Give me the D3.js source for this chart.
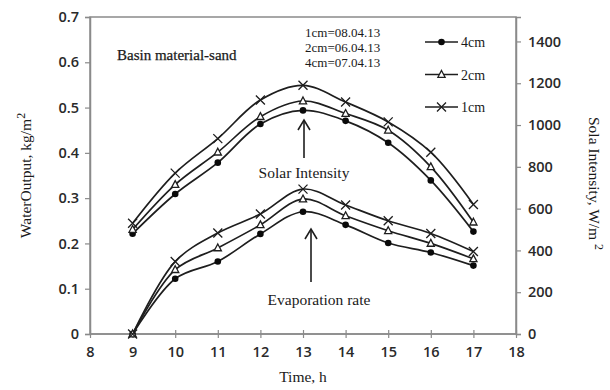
<!DOCTYPE html>
<html>
<head>
<meta charset="utf-8">
<script src="https://cdn.jsdelivr.net/npm/d3@7"></script>
<style>
  html, body { margin: 0; padding: 0; background: #fff; }
  svg { display: block; }
</style>
</head>
<body>
<svg id="chart" width="610" height="390"></svg>
<script>
// Hours of the day
const hours = [9, 10, 11, 12, 13, 14, 15, 16, 17];

// Evaporation rate (water output, kg/m²) for each water depth
const evap4cm = [0, 0.122, 0.160, 0.221, 0.270, 0.241, 0.201, 0.180, 0.151];
const evap2cm = [0, 0.142, 0.190, 0.241, 0.298, 0.261, 0.228, 0.200, 0.166];
const evap1cm = [0, 0.160, 0.223, 0.265, 0.320, 0.285, 0.250, 0.222, 0.182];

// Solar intensity (W/m²) on the test days
const solar4cm = [480, 670, 820, 1005, 1070, 1020, 915, 735, 490];
const solar2cm = [500, 715, 870, 1040, 1115, 1055, 975, 800, 535];
const solar1cm = [530, 770, 935, 1120, 1190, 1110, 1015, 870, 620];

// Axis ticks
const xTicks = [8, 9, 10, 11, 12, 13, 14, 15, 16, 17, 18];
const leftTicks = [0, 0.1, 0.2, 0.3, 0.4, 0.5, 0.6, 0.7];
const rightTicks = [0, 200, 400, 600, 800, 1000, 1200, 1400];

const seriesNames = ["4cm", "2cm", "1cm"];
const dateNotes = ["1cm=08.04.13", "2cm=06.04.13", "4cm=07.04.13"];

const svg = d3.select("#chart");
const L = 90, R = 516, T = 17, B = 334;
const axisColor = "#8a8a8a";
const lineColor = "#1e1e1e";
const textColor = "#1a1a1a";
const sans = "'Open Sans', 'Liberation Sans', sans-serif";
const serif = "'Liberation Serif', 'DejaVu Serif', serif";

const x = d3.scaleLinear().domain([8, 18]).range([L, R]);
const yL = d3.scaleLinear().domain([0, 0.7]).range([B, T]);
const yR = d3.scaleLinear().domain([0, 1517]).range([B, T]);

// Frame
svg.append("rect").attr("x", L).attr("y", T).attr("width", R - L).attr("height", B - T)
  .attr("fill", "none").attr("stroke", axisColor).attr("stroke-width", 1.5);

// Left axis
const gL = svg.append("g").attr("transform", `translate(${L},0)`)
  .call(d3.axisLeft(yL).tickValues(leftTicks).tickFormat(d => d === 0 ? "0" : d3.format(".1f")(d)).tickSize(5).tickPadding(6));
// Right axis
const gR = svg.append("g").attr("transform", `translate(${R},0)`)
  .call(d3.axisRight(yR).tickValues(rightTicks).tickFormat(d3.format("d")).tickSize(5).tickPadding(7));
// Bottom axis with crossing ticks
const gB = svg.append("g").attr("transform", `translate(0,${B})`)
  .call(d3.axisBottom(x).tickValues(xTicks).tickSize(4).tickPadding(9));
gB.selectAll(".tick line").attr("y1", -4);

[gL, gR, gB].forEach(g => {
  g.select(".domain").attr("stroke", axisColor).attr("stroke-width", 1.5);
  g.selectAll(".tick line").attr("stroke", axisColor).attr("stroke-width", 1.2);
  g.selectAll(".tick text").attr("fill", "#2a2a2a").style("font-family", sans)
    .style("font-size", "14.5px").style("font-weight", "600");
});
gB.select(".domain").attr("d", `M${L},0H${R}`);

// Axis titles
svg.append("text").attr("transform", `translate(31,${(T + B) / 2}) rotate(-90)`)
  .attr("text-anchor", "middle").style("font-family", serif).style("font-size", "15.5px").attr("fill", textColor)
  .text("WaterOutput, kg/m").append("tspan").attr("dy", -6).style("font-size", "12px").text("2");
svg.append("text").attr("transform", `translate(589,${(T + B) / 2 + 8}) rotate(90)`)
  .attr("text-anchor", "middle").style("font-family", serif).style("font-size", "15.5px").attr("fill", textColor)
  .text("Sola Intensity, W/m ").append("tspan").attr("dy", -6).style("font-size", "12px").text("2");
svg.append("text").attr("x", 303).attr("y", 382).attr("text-anchor", "middle")
  .style("font-family", serif).style("font-size", "15.5px").attr("fill", textColor).text("Time, h");

// Series
const curve = d3.curveCatmullRom.alpha(0.5);
const groups = [
  { name: "4cm", marker: "dot", evap: evap4cm, solar: solar4cm },
  { name: "2cm", marker: "tri", evap: evap2cm, solar: solar2cm },
  { name: "1cm", marker: "cross", evap: evap1cm, solar: solar1cm }
];

function drawMarker(g, type, cx, cy) {
  if (type === "dot") {
    g.append("circle").attr("cx", cx).attr("cy", cy).attr("r", 3.3).attr("fill", "#0a0a0a");
  } else if (type === "tri") {
    g.append("path").attr("d", `M${cx},${cy - 4}L${cx + 3.6},${cy + 2.8}L${cx - 3.6},${cy + 2.8}Z`)
      .attr("fill", "#fff").attr("stroke", lineColor).attr("stroke-width", 1.3);
  } else {
    const s = 4.5;
    g.append("path").attr("d", `M${cx - s},${cy - s}L${cx + s},${cy + s}M${cx - s},${cy + s}L${cx + s},${cy - s}`)
      .attr("stroke", lineColor).attr("stroke-width", 1.3);
  }
}

const plot = svg.append("g");
groups.forEach(s => {
  const evapLine = d3.line().x((d, i) => x(hours[i])).y(d => yL(d)).curve(curve);
  const solarLine = d3.line().x((d, i) => x(hours[i])).y(d => yR(d)).curve(curve);
  plot.append("path").attr("d", solarLine(s.solar)).attr("fill", "none").attr("stroke", lineColor).attr("stroke-width", 1.7);
  plot.append("path").attr("d", evapLine(s.evap)).attr("fill", "none").attr("stroke", lineColor).attr("stroke-width", 1.7);
});
groups.forEach(s => {
  s.solar.forEach((v, i) => drawMarker(plot, s.marker, x(hours[i]), yR(v)));
  s.evap.forEach((v, i) => drawMarker(plot, s.marker, x(hours[i]), yL(v)));
});

// Legend
const leg = svg.append("g");
groups.forEach((s, i) => {
  const ly = 42 + i * 32.5;
  leg.append("line").attr("x1", 425).attr("x2", 458).attr("y1", ly).attr("y2", ly)
    .attr("stroke", lineColor).attr("stroke-width", 1.5);
  drawMarker(leg, s.marker, 441.5, ly);
  leg.append("text").attr("x", 461).attr("y", ly + 5).style("font-family", serif).style("font-size", "14px")
    .attr("fill", textColor).text(seriesNames[i]);
});

// Annotations
svg.append("text").attr("x", 117).attr("y", 60).style("font-family", serif).style("font-size", "15px")
  .attr("fill", textColor).attr("stroke", textColor).attr("stroke-width", 0.25).text("Basin material-sand");
dateNotes.forEach((t, i) => {
  svg.append("text").attr("x", 305).attr("y", 37 + i * 15).style("font-family", serif).style("font-size", "13px")
    .attr("fill", textColor).text(t);
});

function arrow(xp, y1, y2) {
  svg.append("line").attr("x1", xp).attr("x2", xp).attr("y1", y1).attr("y2", y2)
    .attr("stroke", lineColor).attr("stroke-width", 1.6);
  svg.append("path").attr("d", `M${xp - 6},${y2 + 10}L${xp},${y2}L${xp + 6},${y2 + 10}`)
    .attr("fill", "none").attr("stroke", lineColor).attr("stroke-width", 1.6);
}
arrow(304, 158, 120);
svg.append("text").attr("x", 304).attr("y", 178).attr("text-anchor", "middle").style("font-family", serif)
  .style("font-size", "15.5px").attr("fill", textColor).text("Solar Intensity");
arrow(311, 282, 229);
svg.append("text").attr("x", 319).attr("y", 305).attr("text-anchor", "middle").style("font-family", serif)
  .style("font-size", "15.5px").attr("fill", textColor).text("Evaporation rate");
</script>
</body>
</html>
